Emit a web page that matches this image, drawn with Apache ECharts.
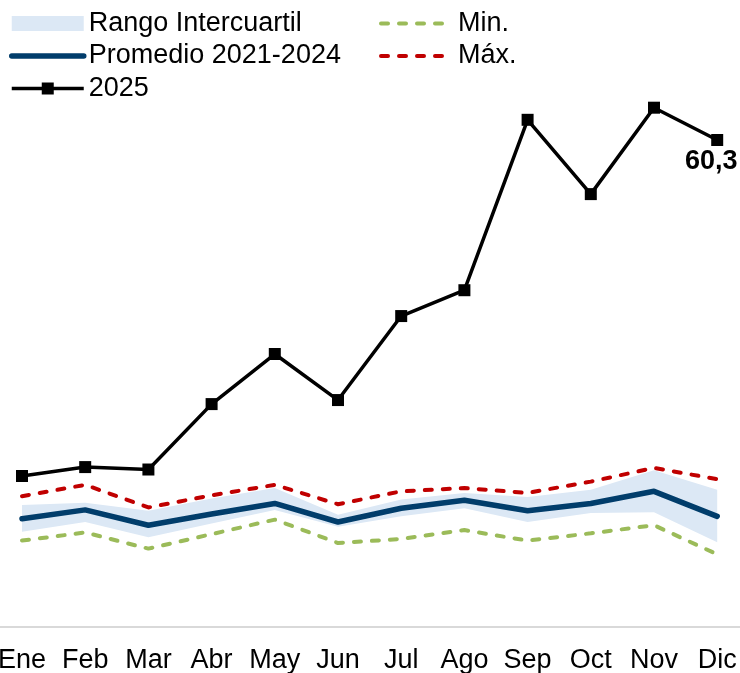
<!DOCTYPE html>
<html lang="es">
<head>
    <meta charset="utf-8"/>
    <title>Serie mensual 2025</title>
    <style>
        html, body { margin: 0; padding: 0; background: #fff; }
        #chart { width: 740px; height: 673px; }
    </style>
</head>
<body>
<div id="chart"></div>

<script src="https://cdn.jsdelivr.net/npm/echarts@6/dist/echarts.min.js"></script>
<script type="text/javascript">
    // datos
    var meses = ['Ene', 'Feb', 'Mar', 'Abr', 'May', 'Jun', 'Jul', 'Ago', 'Sep', 'Oct', 'Nov', 'Dic'];
    var anio2025 = [18.7, 19.8, 19.5, 27.6, 33.8, 28.1, 38.5, 41.7, 62.8, 53.6, 64.3, 60.3];
    var promedio = [13.4, 14.5, 12.6, 14.0, 15.3, 13.0, 14.7, 15.7, 14.4, 15.3, 16.8, 13.7];
    var minimo = [10.7, 11.7, 9.7, 11.5, 13.3, 10.4, 10.9, 12.0, 10.7, 11.6, 12.6, 9.0];
    var maximo = [16.2, 17.6, 14.8, 16.3, 17.6, 15.2, 16.8, 17.2, 16.6, 18.0, 19.7, 18.3];
    var q1 = [11.8, 13.0, 11.1, 12.8, 14.5, 12.4, 13.7, 14.7, 13.0, 14.1, 14.2, 10.5];
    var q3 = [15.1, 15.4, 14.4, 15.9, 17.2, 13.9, 15.8, 16.6, 16.1, 17.0, 19.4, 17.0];

    var fuente = 'Liberation Sans, Arial, sans-serif';
    var verde = '#9bbb59', rojo = '#c00000', azul = '#013d6b', banda = '#dce8f5';

    // ancho de la banda = q3 - q1 (se apila sobre q1)
    var rango = q3.map(function (v, i) { return +(v - q1[i]).toFixed(2); });

    // solo el ultimo punto lleva etiqueta
    var datos2025 = anio2025.map(function (v, i) {
        if (i === anio2025.length - 1) {
            return {
                value: v,
                label: {
                    show: true,
                    position: 'bottom',
                    distance: 2,
                    offset: [-6, 0],
                    fontFamily: fuente,
                    fontSize: 27,
                    fontWeight: 'bold',
                    color: '#000',
                    formatter: function (p) { return String(p.value).replace('.', ','); }
                }
            };
        }
        return v;
    });

    var textoLeyenda = {fontFamily: fuente, fontSize: 27, lineHeight: 26, color: '#000'};
    var guion = {width: 4, type: [7, 11], cap: 'round'};

    var dom = document.getElementById('chart');
    var myChart = echarts.init(dom, null, {renderer: 'canvas'});

    var option = {
        animation: false,
        backgroundColor: '#fff',
        grid: {
            left: -9.6,
            right: -8.8,
            top: 61.66,
            bottom: 46,
            containLabel: false,
            outerBoundsMode: 'none'
        },
        legend: [{
            orient: 'vertical',
            left: 9,
            top: 10,
            padding: 0,
            itemWidth: 72,
            itemHeight: 15,
            itemGap: 5.5,
            textStyle: textoLeyenda,
            data: [
                {name: 'Rango Intercuartil', icon: 'rect', itemStyle: {color: banda, borderWidth: 0}},
                {name: 'Promedio 2021-2024', itemStyle: {opacity: 0},
                    lineStyle: {width: 5.5, color: azul, cap: 'round'}},
                {name: '2025', lineStyle: {width: 3.5, color: '#000'}}
            ]
        }, {
            orient: 'vertical',
            left: 379,
            top: 10,
            padding: 0,
            itemWidth: 72,
            itemHeight: 15,
            itemGap: 5.5,
            textStyle: textoLeyenda,
            data: [
                {name: 'Min.', itemStyle: {opacity: 0},
                    lineStyle: {width: 4, type: [7, 11], cap: 'round', color: verde}},
                {name: 'Máx.', itemStyle: {opacity: 0},
                    lineStyle: {width: 4, type: [7, 11], cap: 'round', color: rojo}}
            ]
        }],
        xAxis: {
            type: 'category',
            boundaryGap: true,
            data: meses,
            axisLine: {lineStyle: {color: '#d9d9d9', width: 2}},
            axisTick: {show: false},
            axisLabel: {
                margin: 20,
                fontFamily: fuente,
                fontSize: 27,
                color: '#000',
                interval: 0,
                hideOverlap: false
            }
        },
        yAxis: {
            type: 'value',
            show: false,
            min: 0,
            max: 70,
            splitLine: {show: false}
        },
        series: [{
            name: 'base',
            type: 'line',
            stack: 'iqr',
            data: q1,
            symbol: 'none',
            silent: true,
            lineStyle: {width: 0, opacity: 0},
            z: 1
        }, {
            name: 'Rango Intercuartil',
            type: 'line',
            stack: 'iqr',
            data: rango,
            symbol: 'none',
            silent: true,
            color: banda,
            lineStyle: {width: 0, color: banda},
            areaStyle: {color: banda, opacity: 1},
            z: 1
        }, {
            name: 'Min.',
            type: 'line',
            data: minimo,
            symbol: 'none',
            color: verde,
            lineStyle: {width: guion.width, type: guion.type, cap: guion.cap, color: verde},
            z: 2
        }, {
            name: 'Máx.',
            type: 'line',
            data: maximo,
            symbol: 'none',
            color: rojo,
            lineStyle: {width: guion.width, type: guion.type, cap: guion.cap, color: rojo},
            z: 2
        }, {
            name: 'Promedio 2021-2024',
            type: 'line',
            data: promedio,
            symbol: 'none',
            color: azul,
            lineStyle: {width: 5.5, cap: 'round', join: 'round', color: azul},
            z: 3
        }, {
            name: '2025',
            type: 'line',
            data: datos2025,
            symbol: 'rect',
            symbolSize: 12,
            color: '#000',
            itemStyle: {color: '#000'},
            lineStyle: {width: 3.5, color: '#000'},
            z: 4
        }]
    };

    if (option && typeof option === 'object') {
        myChart.setOption(option, true);
    }
</script>
</body>
</html>
